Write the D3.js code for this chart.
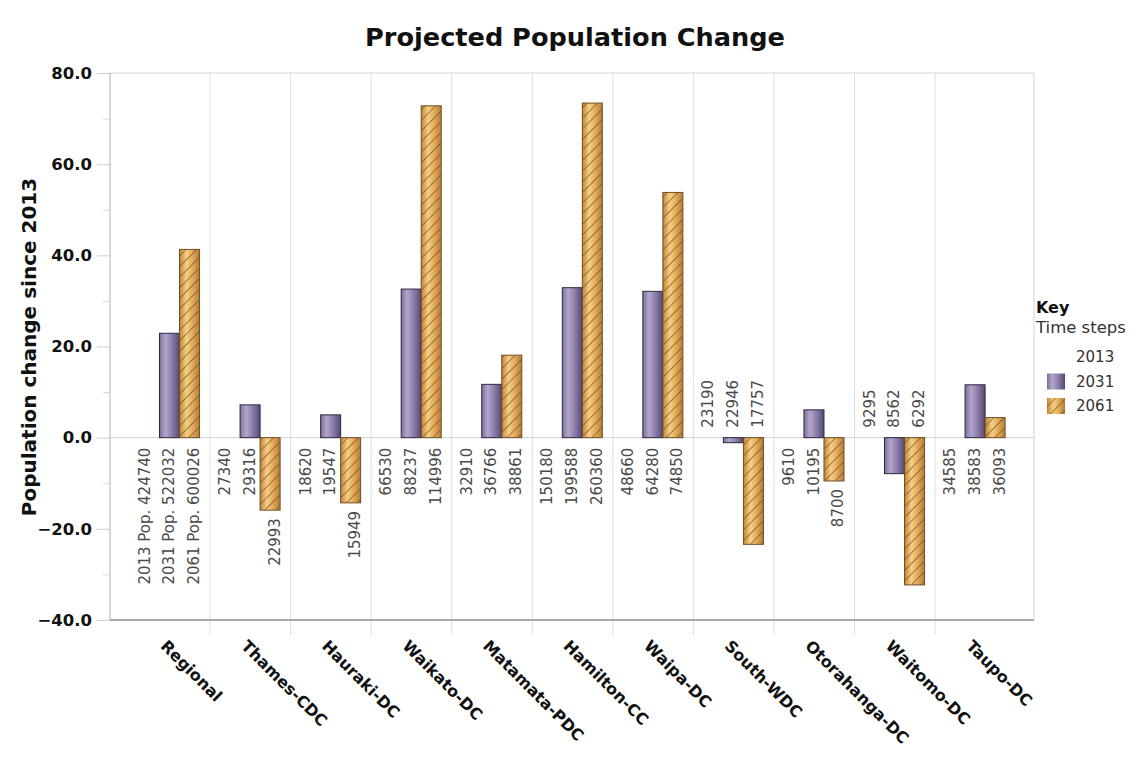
<!DOCTYPE html>
<html>
<head>
<meta charset="utf-8">
<script src="https://cdn.jsdelivr.net/npm/d3@7"></script>
<style>
  html, body { margin: 0; padding: 0; background: #fff; }
  svg { display: block; }
  text { font-family: "DejaVu Sans", Verdana, sans-serif; }
</style>
</head>
<body>
<svg id="chart" width="1147" height="757"></svg>
<script>
// ---- Data ----
const categories = ["Regional","Thames-CDC","Hauraki-DC","Waikato-DC","Matamata-PDC","Hamilton-CC","Waipa-DC","South-WDC","Otorahanga-DC","Waitomo-DC","Taupo-DC"];
const seriesNames = ["2013","2031","2061"];
const pop2013 = [424740, 27340, 18620, 66530, 32910, 150180, 48660, 23190, 9610, 9295, 34585];
const pop2031 = [522032, 29316, 19547, 88237, 36766, 199588, 64280, 22946, 10195, 8562, 38583];
const pop2061 = [600026, 22993, 15949, 114996, 38861, 260360, 74850, 17757, 8700, 6292, 36093];
const change2013 = [0, 0, 0, 0, 0, 0, 0, 0, 0, 0, 0];
const change2031 = [22.9, 7.2, 5.0, 32.6, 11.7, 32.9, 32.1, -1.1, 6.1, -7.9, 11.6];
const change2061 = [41.3, -15.9, -14.3, 72.8, 18.1, 73.4, 53.8, -23.4, -9.5, -32.3, 4.4];
const yTicks = [-40, -20, 0, 20, 40, 60, 80];
const yMinorTicks = [-30, -10, 10, 30, 50, 70];

// ---- Layout ----
const svg = d3.select("#chart");
const plot = { left: 110, right: 1034, top: 73, bottom: 620 };
const bandLeft = 129.5, bandRight = 1015.6;

const x = d3.scaleBand().domain(categories).range([bandLeft, bandRight]).paddingInner(0).paddingOuter(0);
const bw = x.bandwidth();
const xs = d3.scaleBand().domain(seriesNames).range([10, bw - 10.5]).padding(0);
const y = d3.scaleLinear().domain([-40, 80]).range([plot.bottom, plot.top]);

// ---- Defs ----
const defs = svg.append("defs");
const gp = defs.append("linearGradient").attr("id", "gPurple").attr("x1", "0%").attr("x2", "100%").attr("y1", "0%").attr("y2", "0%");
[["0%", "#7d6f9b"], ["30%", "#b2a6cb"], ["60%", "#8f81ad"], ["100%", "#564873"]].forEach(s => gp.append("stop").attr("offset", s[0]).attr("stop-color", s[1]));
const go = defs.append("linearGradient").attr("id", "gOrange").attr("x1", "0%").attr("x2", "100%").attr("y1", "0%").attr("y2", "0%");
[["0%", "#c0853a"], ["35%", "#f6cf84"], ["65%", "#e2aa5a"], ["100%", "#b57d36"]].forEach(s => go.append("stop").attr("offset", s[0]).attr("stop-color", s[1]));
const hatch = defs.append("pattern").attr("id", "hatch").attr("patternUnits", "userSpaceOnUse")
  .attr("width", 7.5).attr("height", 7.5).attr("patternTransform", "rotate(-45)");
hatch.append("line").attr("x1", 0).attr("y1", 0).attr("x2", 7.5).attr("y2", 0)
  .attr("stroke", "#6f461a").attr("stroke-width", 1.4).attr("stroke-opacity", 0.9);

// ---- Title ----
svg.append("text").attr("x", 575).attr("y", 46).attr("text-anchor", "middle")
  .attr("font-size", 25.6).attr("font-weight", "bold").attr("fill", "#111")
  .text("Projected Population Change");

// ---- Grid & axes ----
const g = svg.append("g");
g.append("line").attr("x1", plot.left).attr("x2", plot.right).attr("y1", plot.top).attr("y2", plot.top)
  .attr("stroke", "#d6d6d6").attr("stroke-width", 1);
g.append("line").attr("x1", plot.right).attr("x2", plot.right).attr("y1", plot.top).attr("y2", plot.bottom)
  .attr("stroke", "#e2e2e2").attr("stroke-width", 1.5);
g.selectAll("line.sep").data(categories.slice(1)).enter().append("line").attr("class", "sep")
  .attr("x1", d => x(d)).attr("x2", d => x(d)).attr("y1", plot.top).attr("y2", plot.bottom + 15)
  .attr("stroke", "#dedede").attr("stroke-width", 1);
g.append("line").attr("x1", plot.left).attr("x2", plot.right).attr("y1", y(0)).attr("y2", y(0))
  .attr("stroke", "#d0d0d0").attr("stroke-width", 1);

// y axis
const yAxis = d3.axisLeft(y).tickValues(yTicks).tickSize(13).tickFormat(d3.format(".1f"));
const ya = svg.append("g").attr("transform", `translate(${plot.left},0)`).call(yAxis);
ya.select(".domain").remove();
ya.selectAll(".tick line").attr("stroke", "#cfcfcf");
ya.selectAll(".tick text").attr("font-size", 16.5).attr("font-weight", "bold").attr("fill", "#111")
  .attr("font-family", "DejaVu Sans, Verdana, sans-serif").attr("dx", "-2");
const yMinor = d3.axisLeft(y).tickValues(yMinorTicks).tickSize(7).tickFormat("");
const ym = svg.append("g").attr("transform", `translate(${plot.left},0)`).call(yMinor);
ym.select(".domain").remove();
ym.selectAll(".tick line").attr("stroke", "#d6d6d6");
svg.append("line").attr("x1", plot.left).attr("x2", plot.left).attr("y1", plot.top).attr("y2", plot.bottom)
  .attr("stroke", "#bdbdbd").attr("stroke-width", 1.2);

// y label
svg.append("text").attr("transform", `translate(36,347) rotate(-90)`).attr("text-anchor", "middle")
  .attr("font-size", 20).attr("font-weight", "bold").attr("fill", "#111")
  .text("Population change since 2013");

// ---- Bars ----
const values = { "2013": change2013, "2031": change2031, "2061": change2061 };
const pops = { "2013": pop2013, "2031": pop2031, "2061": pop2061 };
const barData = [];
categories.forEach((c, i) => {
  seriesNames.forEach(s => barData.push({ cat: c, i, s, v: values[s][i], pop: pops[s][i] }));
});
const bars = svg.append("g");
const drawn = barData.filter(d => d.v !== 0);
bars.selectAll("rect.bar").data(drawn).enter().append("rect").attr("class", "bar")
  .attr("x", d => x(d.cat) + xs(d.s)).attr("width", xs.bandwidth())
  .attr("y", d => y(Math.max(0, d.v))).attr("height", d => Math.abs(y(d.v) - y(0)))
  .attr("fill", d => d.s === "2031" ? "url(#gPurple)" : "url(#gOrange)")
  .attr("stroke", d => d.s === "2031" ? "#2e2640" : "#6e4d25").attr("stroke-width", 1);
bars.selectAll("rect.hatch").data(drawn.filter(d => d.s === "2061")).enter().append("rect").attr("class", "hatch")
  .attr("x", d => x(d.cat) + xs(d.s) + 0.5).attr("width", xs.bandwidth() - 1)
  .attr("y", d => y(Math.max(0, d.v)) + 0.5).attr("height", d => Math.abs(y(d.v) - y(0)) - 1)
  .attr("fill", "url(#hatch)");

// ---- Data labels ----
const labels = svg.append("g");
barData.forEach(d => {
  const cx = x(d.cat) + bw / 2 + (seriesNames.indexOf(d.s) - 1) * 24.7 - 0.5;
  const groupNeg = change2031[d.i] < 0;
  const txt = d.i === 0 ? `${d.s} Pop. ${d.pop}` : `${d.pop}`;
  let yy, anchor;
  if (groupNeg) { yy = y(0) - 10; anchor = "start"; }
  else { yy = (d.v < 0 ? y(d.v) + 8 : y(0) + 10); anchor = "end"; }
  labels.append("text").attr("transform", `translate(${cx},${yy}) rotate(-90)`)
    .attr("text-anchor", anchor).attr("dominant-baseline", "central")
    .attr("font-size", 15).attr("fill", "#4a4a4a").text(txt);
});

// bottom axis line
svg.append("line").attr("x1", plot.left).attr("x2", plot.right).attr("y1", plot.bottom).attr("y2", plot.bottom)
  .attr("stroke", "#a9a9a9").attr("stroke-width", 2);

// ---- X labels ----
svg.append("g").selectAll("text").data(categories).enter().append("text")
  .attr("transform", d => `translate(${x(d) + bw / 2 - 10},647) rotate(45)`)
  .attr("text-anchor", "start").attr("font-size", 16).attr("font-weight", "bold").attr("fill", "#111")
  .text(d => d);

// ---- Legend ----
const lg = svg.append("g");
lg.append("text").attr("x", 1036).attr("y", 313).attr("font-size", 16).attr("font-weight", "bold").attr("fill", "#111").text("Key");
lg.append("text").attr("x", 1036).attr("y", 333).attr("font-size", 16.5).attr("fill", "#333").text("Time steps");
seriesNames.forEach((s, k) => {
  const yy = 362 + k * 24.5;
  if (s === "2031") {
    lg.append("rect").attr("x", 1047).attr("y", yy - 13).attr("width", 18).attr("height", 16)
      .attr("fill", "url(#gPurple)");
  } else if (s === "2061") {
    lg.append("rect").attr("x", 1047).attr("y", yy - 13).attr("width", 18).attr("height", 16)
      .attr("fill", "url(#gOrange)");
    lg.append("rect").attr("x", 1047).attr("y", yy - 13).attr("width", 18).attr("height", 16)
      .attr("fill", "url(#hatch)");
  }
  lg.append("text").attr("x", 1076).attr("y", yy).attr("font-size", 15).attr("fill", "#333").text(s);
});
</script>
</body>
</html>
